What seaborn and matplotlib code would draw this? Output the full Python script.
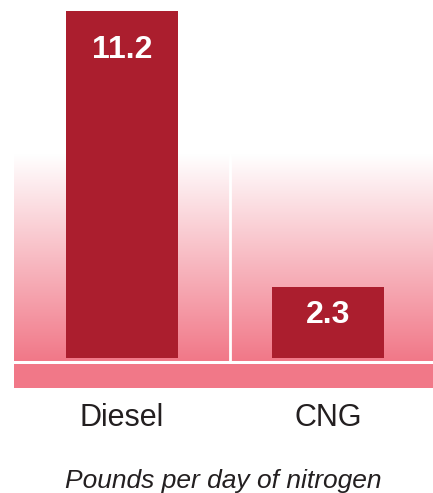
import numpy as np
import matplotlib
matplotlib.use("Agg")
import matplotlib.pyplot as plt
import seaborn as sns

fuels = ["Diesel", "CNG"]
nitrogen_lbs = [11.2, 2.3]
value_labels = ["11.2", "2.3"]

bar_red = "#AB1E2E"
pink = np.array([241, 120, 136]) / 255.0
text_dark = "#231F20"

sns.set_theme(style="white")
plt.rcParams["font.family"] = ["Liberation Sans", "DejaVu Sans"]

fig = plt.figure(figsize=(4.33, 4.93), dpi=100)
ax = fig.add_axes([14 / 433, 105 / 493, 1 - 14 / 433, 388 / 493])

x0, x1 = -0.524, 1.51
y0, y1 = -0.968, 11.55
grad_bottom, grad_top = -0.097, 6.55

# white-to-pink backdrop behind the bars
n = 256
t = np.linspace(0, 1, n)[:, None]
grad = (1 - t) * np.array([1.0, 1.0, 1.0]) + t * pink
grad = np.repeat(grad[:, None, :], 2, axis=1)
ax.imshow(grad, extent=[x0, x1, grad_bottom, grad_top], aspect="auto", zorder=0)
ax.axhspan(y0, -0.194, color=pink, lw=0, zorder=0)
ax.axvline(0.524, ymin=(grad_bottom - y0) / (y1 - y0), ymax=1,
           color="white", lw=2, zorder=1)

sns.barplot(x=fuels, y=nitrogen_lbs, color=bar_red, saturation=1,
            width=0.544, linewidth=0, ax=ax, zorder=2)

offsets = [-39, -28]
for i, (v, lab) in enumerate(zip(nitrogen_lbs, value_labels)):
    ax.annotate(lab, (i, v), xytext=(0, offsets[i]), textcoords="offset pixels",
                ha="center", va="center", color="white", fontsize=23,
                fontweight="bold", zorder=3)

ax.set_xlim(x0, x1)
ax.set_ylim(y0, y1)
ax.set_yticks([])
for s in ax.spines.values():
    s.set_visible(False)
ax.tick_params(axis="x", length=0, pad=11, labelsize=22, labelcolor=text_dark)
ax.set_xlabel("Pounds per day of nitrogen", fontsize=19, style="italic",
              color=text_dark, labelpad=26)
ax.set_ylabel("")

fig.savefig("out.png", dpi=100)
